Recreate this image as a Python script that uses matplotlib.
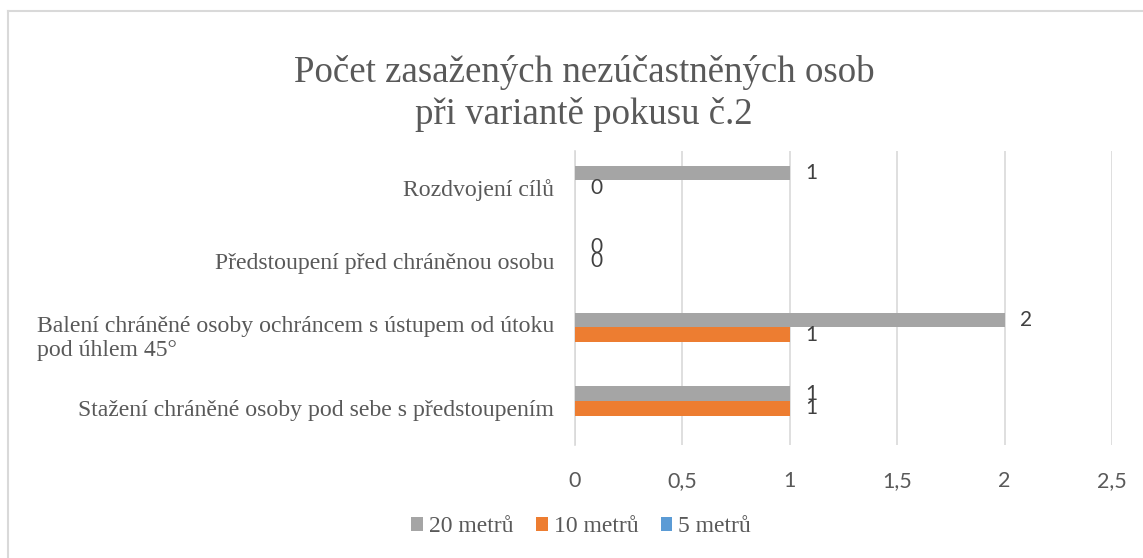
import numpy as np
import matplotlib
matplotlib.use('Agg')
import matplotlib.pyplot as plt
from matplotlib.patches import Patch
from matplotlib.lines import Line2D

# ── data ─────────────────────────────────────────────
categories = [
    'Stažení chráněné osoby pod sebe s předstoupením',
    'Balení chráněné osoby ochráncem s ústupem od útoku\npod úhlem 45°',
    'Předstoupení před chráněnou osobu',
    'Rozdvojení cílů',
]
series_names = ['20 metrů', '10 metrů', '5 metrů']
vals_20 = [1, 2, 0, 1]
vals_10 = [1, 1, 0, 0]
vals_5 = [np.nan, np.nan, np.nan, np.nan]   # no values in the source
colors = ['#A5A5A5', '#ED7D31', '#5B9BD5']

SERIF = ['Liberation Serif', 'DejaVu Serif']
SANS = ['Lato', 'DejaVu Sans']
TXT = '#595959'

fig = plt.figure(figsize=(11.43, 5.58), dpi=100)
ax = fig.add_axes([575 / 1143, 1 - 445 / 558, (1112 - 575) / 1143, (445 - 151) / 558])

y = np.arange(len(categories))
h = 0.2
offsets = [h, 0, -h]
for vals, off, c in zip([vals_20, vals_10, vals_5], offsets, colors):
    ax.barh(y + off, vals, height=h, color=c, zorder=3)
    for yi, v in zip(y, vals):
        if np.isnan(v):
            continue
        ax.annotate(f'{v:g}', xy=(v, yi + off), xytext=(11, 0),
                    textcoords='offset points', va='center', ha='left',
                    fontsize=15, family=SANS, color='#404040')

ax.set_xlim(0, 2.5)
ax.set_ylim(-0.5, 3.5)
ax.set_xticks(np.arange(0, 2.51, 0.5))
ax.set_xticklabels([f'{t:g}'.replace('.', ',') for t in np.arange(0, 2.51, 0.5)],
                   family=SANS, fontsize=15.5, color=TXT)
ax.set_yticks(y)
ax.set_yticklabels(categories, family=SERIF, fontsize=17.1, color=TXT,
                   multialignment='left')
ax.tick_params(axis='both', length=0)
ax.tick_params(axis='x', pad=19)
ax.tick_params(axis='y', pad=15)
ax.grid(axis='x', color='#d9d9d9', lw=1.2, zorder=0)
for s in ['top', 'right', 'bottom']:
    ax.spines[s].set_visible(False)
ax.spines['left'].set_color('#d9d9d9')
ax.spines['left'].set_linewidth(1.2)

fig.text(0.511, 0.832, 'Počet zasažených nezúčastněných osob\npři variantě pokusu č.2',
         ha='center', va='center', family=SERIF, fontsize=26.6, color=TXT,
         linespacing=1.25)

handles = [Patch(facecolor=c, edgecolor='none') for c in colors]
fig.legend(handles, series_names, loc='center', bbox_to_anchor=(0.5085, 1 - 527 / 558),
           ncol=3, frameon=False, handlelength=0.5, handleheight=0.5,
           handletextpad=0.25, columnspacing=0.95,
           prop={'family': SERIF, 'size': 17}, labelcolor=TXT)

# outer chart border (only top and left are visible in the screenshot)
fig.add_artist(Line2D([8 / 1143, 8 / 1143], [0, 1 - 11 / 558], color='#d9d9d9', lw=1.5))
fig.add_artist(Line2D([8 / 1143, 1], [1 - 11 / 558, 1 - 11 / 558], color='#d9d9d9', lw=1.5))

fig.savefig('out.png', dpi=100, facecolor='white')
